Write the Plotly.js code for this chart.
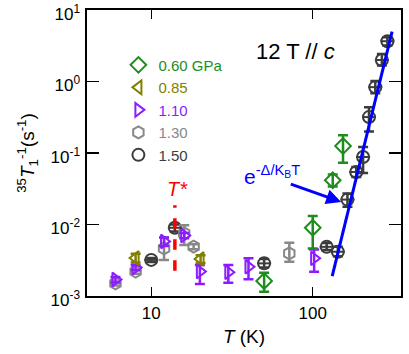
<!DOCTYPE html>
<html>
<head>
<meta charset="utf-8">
<script src="https://cdn.plot.ly/plotly-3.0.1.min.js"></script>
<style>html,body{margin:0;padding:0;background:#fff;}#chart{width:409px;height:354px;}</style>
</head>
<body>
<div id="chart"></div>
<script>
// ---- data ----
var p060_T  = [50, 100, 133, 154];
var p060_y  = [1.62e-3, 9.0e-3, 0.0416, 0.125];
var p060_up = [2.12e-3, 1.31e-2, 0.050, 0.177];
var p060_lo = [1.15e-3, 4.6e-3, 0.034, 0.073];

var p085_T  = [8, 20.2];
var p085_y  = [3.4e-3, 3.3e-3];
var p085_up = [3.9e-3, 3.7e-3];
var p085_lo = [2.95e-3, 2.9e-3];

var p110_T  = [6, 8, 12, 16, 20, 30, 40, 102];
var p110_y  = [1.7e-3, 2.5e-3, 5.8e-3, 7.0e-3, 2.2e-3, 2.15e-3, 2.56e-3, 3.36e-3];
var p110_up = [1.85e-3, 2.7e-3, 6.6e-3, 7.6e-3, 2.71e-3, 2.71e-3, 3.36e-3, 4.48e-3];
var p110_lo = [1.55e-3, 2.3e-3, 5.0e-3, 6.4e-3, 1.47e-3, 1.53e-3, 1.71e-3, 2.19e-3];

var p130_T  = [6, 8, 12, 16, 18.3, 71.6];
var p130_y  = [1.5e-3, 2.2e-3, 4.63e-3, 7.5e-3, 4.9e-3, 3.94e-3];
var p130_up = [1.6e-3, 2.35e-3, 6.59e-3, 9.8e-3, 5.3e-3, 5.54e-3];
var p130_lo = [1.4e-3, 2.05e-3, 3.18e-3, 5.15e-3, 4.5e-3, 3.01e-3];

var p150_T  = [10, 14, 50, 122, 143, 164, 186, 205, 223, 244, 268, 290];
var p150_y  = [3.2e-3, 9.0e-3, 2.86e-3, 4.87e-3, 4.16e-3, 0.0223, 0.0543, 0.0879, 0.318, 0.834, 2.0, 3.66];
var p150_up = [3.4e-3, 1.0e-2, 3.3e-3, 5.5e-3, 4.9e-3, 0.0271, 0.0638, 0.121, 0.438, 1.02, 2.43, 4.16];
var p150_lo = [3.0e-3, 8.0e-3, 2.5e-3, 4.4e-3, 3.6e-3, 0.0177, 0.0462, 0.0526, 0.200, 0.687, 1.67, 3.18];

var fit_T = [132, 310];
var fit_y = [1.9e-3, 5.0];

var tstar_T = [14, 14];
var tstar_y = [2.25e-3, 0.0186];

var arrow_from = [71.6, 0.0373];
var arrow_to   = [150, 0.0207];

var xTickVals = [10, 100];
var xTickText = ['10', '100'];
var yTickVals = [1e-3, 1e-2, 1e-1, 1, 10];
var yTickText = ['10<sup>-3</sup>', '10<sup>-2</sup>', '10<sup>-1</sup>', '10<sup>0</sup>', '10<sup>1</sup>'];
var xMinorVals = [5, 6, 7, 8, 9, 20, 30, 40, 50, 60, 70, 80, 90, 200, 300];
var yMinorVals = [2e-3, 3e-3, 4e-3, 5e-3, 6e-3, 7e-3, 8e-3, 9e-3,
                  2e-2, 3e-2, 4e-2, 5e-2, 6e-2, 7e-2, 8e-2, 9e-2,
                  0.2, 0.3, 0.4, 0.5, 0.6, 0.7, 0.8, 0.9,
                  2, 3, 4, 5, 6, 7, 8, 9];

var names = ['0.60 GPa', '0.85', '1.10', '1.30', '1.50'];
var colors = ['#1e8c1e', '#808000', '#8c1cff', '#888888', '#3c3c3c'];

// ---- build traces ----
function diff(a, b) { return a.map(function (v, i) { return v - b[i]; }); }
function series(T, y, up, lo, name, color, symbol) {
  return {
    x: T, y: y, type: 'scatter', mode: 'markers',
    name: '<span style="color:' + color + '">' + name + '</span>',
    marker: { symbol: symbol, size: 12, color: color, line: { color: color, width: 2 } },
    error_y: { type: 'data', symmetric: false, array: diff(up, y), arrayminus: diff(y, lo),
               color: color, thickness: 2.5, width: 5 }
  };
}
var traces = [
  series(p150_T, p150_y, p150_up, p150_lo, names[4], colors[4], 'circle-open'),
  series(p130_T, p130_y, p130_up, p130_lo, names[3], colors[3], 'hexagon-open'),
  series(p110_T, p110_y, p110_up, p110_lo, names[2], colors[2], 'triangle-right-open'),
  series(p085_T, p085_y, p085_up, p085_lo, names[1], colors[1], 'triangle-left-open'),
  series(p060_T, p060_y, p060_up, p060_lo, names[0], colors[0], 'diamond-open')
];
// horizontal bar inside the 1.50 GPa circles
traces.push({ x: p150_T, y: p150_y, type: 'scatter', mode: 'markers', showlegend: false, hoverinfo: 'skip',
  marker: { symbol: 'line-ew', size: 10, color: colors[4], line: { color: colors[4], width: 2 } } });
traces.push({ x: fit_T, y: fit_y, type: 'scatter', mode: 'lines', showlegend: false,
  line: { color: '#0000ff', width: 3 } });
traces.push({ x: tstar_T, y: tstar_y, type: 'scatter', mode: 'lines', showlegend: false,
  line: { color: '#ff0000', width: 3.5, dash: 'dash' } });

var fontFam = 'Liberation Sans, Arial, sans-serif';
var xRange = [Math.log10(4), Math.log10(352)];
var yRange = [-3, 1];

var layout = {
  width: 409, height: 354,
  margin: { l: 87, r: 8, t: 10, b: 58 },
  paper_bgcolor: '#fff', plot_bgcolor: '#fff',
  font: { family: fontFam, color: '#000' },
  xaxis: {
    type: 'log', range: xRange, showgrid: false, zeroline: false,
    showline: true, linecolor: '#000', linewidth: 1.6, mirror: 'allticks',
    ticks: 'inside', ticklen: 9, tickwidth: 1.4, tickcolor: '#000',
    tickmode: 'array', tickvals: xTickVals, ticktext: xTickText,
    tickfont: { family: fontFam, size: 17, color: '#000' }, ticklabelstandoff: 1,
    title: { text: '<i>T</i> (K)', font: { size: 19 }, standoff: 7 }
  },
  yaxis: {
    type: 'log', range: yRange, showgrid: false, zeroline: false,
    showline: true, linecolor: '#000', linewidth: 1.6, mirror: 'allticks',
    ticks: 'inside', ticklen: 12, tickwidth: 1.4, tickcolor: '#000',
    tickmode: 'array', tickvals: yTickVals, ticktext: yTickText,
    tickfont: { family: fontFam, size: 17, color: '#000' }, ticklabelstandoff: 2,
    ticklabeloverflow: 'allow', ticklabelshift: 4,
    title: { text: '<sup>35</sup><i>T</i><sub>1</sub><sup>-1</sup>(s<sup>-1</sup>)', font: { size: 19 }, standoff: 11 }
  },
  xaxis2: {
    type: 'log', range: xRange, overlaying: 'x', anchor: 'y', side: 'bottom',
    showgrid: false, zeroline: false, showline: false, mirror: 'allticks',
    ticks: 'inside', ticklen: 4, tickwidth: 1.2, tickcolor: '#000',
    tickmode: 'array', tickvals: xMinorVals, showticklabels: false
  },
  yaxis2: {
    type: 'log', range: yRange, overlaying: 'y', anchor: 'x', side: 'left',
    showgrid: false, zeroline: false, showline: false, mirror: 'allticks',
    ticks: 'inside', ticklen: 5, tickwidth: 1.2, tickcolor: '#000',
    tickmode: 'array', tickvals: yMinorVals, showticklabels: false
  },
  legend: {
    x: 0.1, y: 0.865, xanchor: 'left', yanchor: 'top', bgcolor: 'rgba(0,0,0,0)',
    font: { size: 15 }, traceorder: 'reversed', itemsizing: 'constant'
  },
  annotations: [
    { xref: 'paper', yref: 'paper', x: 0.665, y: 0.905, showarrow: false, xanchor: 'center',
      text: '12 T // <i>c</i>', font: { size: 22, color: '#000' } },
    { xref: 'x', yref: 'y', x: Math.log10(14.5), y: Math.log10(0.031), showarrow: false,
      text: '<i>T*</i>', font: { size: 20, color: '#ff0000' } },
    { xref: 'x', yref: 'y', x: Math.log10(56), y: Math.log10(0.05), showarrow: false,
      text: 'e<sup>-Δ/K<sub>B</sub>T</sup>', font: { size: 21, color: '#0000ff' } },
    { xref: 'x', yref: 'y', axref: 'x', ayref: 'y',
      x: Math.log10(arrow_to[0]), y: Math.log10(arrow_to[1]),
      ax: Math.log10(arrow_from[0]), ay: Math.log10(arrow_from[1]),
      showarrow: true, arrowhead: 2, arrowsize: 1, arrowwidth: 3, arrowcolor: '#0000ff', text: '' }
  ]
};

Plotly.newPlot('chart', traces, layout, { staticPlot: true, displayModeBar: false });
</script>
</body>
</html>
